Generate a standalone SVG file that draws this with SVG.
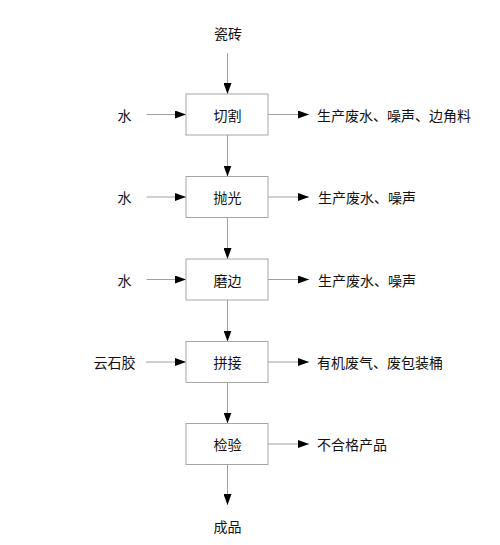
<svg xmlns="http://www.w3.org/2000/svg" width="500" height="545" viewBox="0 0 500 545">
<defs>
<style>
.box{fill:#fff;stroke:#a6a6a6;stroke-width:1}
.ln{stroke:#a0a0a0;stroke-width:1;fill:none;marker-end:url(#ah)}
text{font-family:"Noto Sans CJK SC","Noto Sans CJK TC",sans-serif;font-size:14px;fill:#111;dominant-baseline:central}
.c{text-anchor:middle}
</style>
<marker id="ah" markerUnits="userSpaceOnUse" markerWidth="11" markerHeight="8" refX="11" refY="4" orient="auto">
<path d="M0,0 L11,4 L0,8 z" fill="#000"/>
</marker>
</defs>
<rect width="500" height="545" fill="#fff"/>
<g id="connectors">
<line class="ln" x1="227.5" y1="53" x2="227.5" y2="94"/>
<line class="ln" x1="227.5" y1="135" x2="227.5" y2="176.5"/>
<line class="ln" x1="227.5" y1="217.5" x2="227.5" y2="259"/>
<line class="ln" x1="227.5" y1="300" x2="227.5" y2="341.5"/>
<line class="ln" x1="227.5" y1="382.5" x2="227.5" y2="423.5"/>
<line class="ln" x1="227.5" y1="464.5" x2="227.5" y2="505"/>
<line class="ln" x1="146.5" y1="114.5" x2="186" y2="114.5"/>
<line class="ln" x1="146.5" y1="197" x2="186" y2="197"/>
<line class="ln" x1="146.5" y1="279.5" x2="186" y2="279.5"/>
<line class="ln" x1="146" y1="362" x2="186" y2="362"/>
<line class="ln" x1="268" y1="114.5" x2="309" y2="114.5"/>
<line class="ln" x1="268" y1="197" x2="309" y2="197"/>
<line class="ln" x1="268" y1="279.5" x2="309" y2="279.5"/>
<line class="ln" x1="268" y1="362" x2="309" y2="362"/>
<line class="ln" x1="268" y1="444" x2="309" y2="444"/>
</g>
<g id="input-tile"><text class="c" x="228" y="33">瓷砖</text></g>
<g id="node-cut"><rect class="box" x="186" y="94" width="82" height="41"/><text class="c" x="227.5" y="114.5">切割</text></g>
<g id="node-polish"><rect class="box" x="186" y="176.5" width="82" height="41"/><text class="c" x="227.5" y="197">抛光</text></g>
<g id="node-edge"><rect class="box" x="186" y="259" width="82" height="41"/><text class="c" x="227.5" y="279.5">磨边</text></g>
<g id="node-join"><rect class="box" x="186" y="341.5" width="82" height="41"/><text class="c" x="227.5" y="362">拼接</text></g>
<g id="node-inspect"><rect class="box" x="186" y="423.5" width="82" height="41"/><text class="c" x="227.5" y="444">检验</text></g>
<g id="output-product"><text class="c" x="227.5" y="526">成品</text></g>
<g id="in-water-1"><text class="c" x="124.5" y="114.5">水</text></g>
<g id="in-water-2"><text class="c" x="124.5" y="197">水</text></g>
<g id="in-water-3"><text class="c" x="124.5" y="279.5">水</text></g>
<g id="in-glue"><text class="c" x="114.5" y="362">云石胶</text></g>
<g id="out-1"><text x="317" y="114.5">生产废水、噪声、边角料</text></g>
<g id="out-2"><text x="318" y="197">生产废水、噪声</text></g>
<g id="out-3"><text x="318" y="279.5">生产废水、噪声</text></g>
<g id="out-4"><text x="317" y="362">有机废气、废包装桶</text></g>
<g id="out-5"><text x="317" y="444">不合格产品</text></g>
</svg>
